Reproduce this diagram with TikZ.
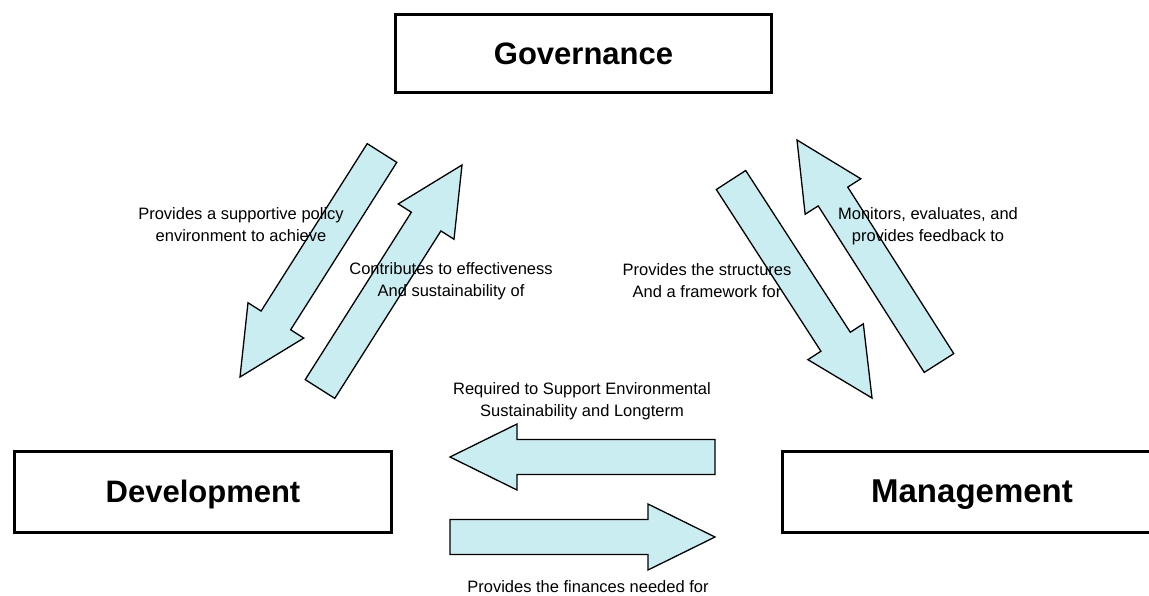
\documentclass[tikz,border=0pt]{standalone}
\usepackage{fontspec}
\setmainfont{Liberation Sans}
\usetikzlibrary{calc}
\definecolor{arrowcyan}{RGB}{202,237,242}
\newcommand{\blockarrow}[2]{%
  \coordinate (hb) at ($(#2)!67pt!(#1)$);
  \draw[blockarrow] ($(#1)!17.5pt!90:(#2)$) -- ($(hb)!17.5pt!90:(#2)$)
    -- ($(hb)!33pt!90:(#2)$) -- (#2) -- ($(hb)!33pt!-90:(#2)$)
    -- ($(hb)!17.5pt!-90:(#2)$) -- ($(#1)!17.5pt!-90:(#2)$) -- cycle;}
\begin{document}
\begin{tikzpicture}[x=1pt, y=-1pt,
  box/.style={draw, line width=3pt, minimum height=81pt, inner sep=0pt,
    font=\bfseries\fontsize{31}{31}\selectfont, text height=22pt, text depth=0pt},
  lbl/.style={align=center, font=\fontsize{16.5}{22}\selectfont},
  blockarrow/.style={draw=black, line width=1.3pt, fill=arrowcyan, line join=miter}]
\useasboundingbox (0,0) rectangle (1149,596);
\clip (0,0) rectangle (1149,596);
\node[box, minimum width=376pt, minimum height=78pt] (gov) at (583.5,53.5) {Governance};
\node[box, minimum width=377pt] (dev) at (203,491.5) {Development};
\node[box, minimum width=379pt, font=\bfseries\fontsize{33}{33}\selectfont] (mgmt) at (972,491.5) {Management};
\coordinate (gd-tail) at (382,153); \coordinate (gd-tip) at (240,377);
\coordinate (dg-tail) at (320,389); \coordinate (dg-tip) at (462,165);
\coordinate (gm-tail) at (731,180); \coordinate (gm-tip) at (872,398);
\coordinate (mg-tail) at (939,363); \coordinate (mg-tip) at (797,140);
\coordinate (md-tail) at (715,457); \coordinate (md-tip) at (450,457);
\coordinate (dm-tail) at (450,537); \coordinate (dm-tip) at (715,537);
\blockarrow{gd-tail}{gd-tip}
\blockarrow{dg-tail}{dg-tip}
\blockarrow{gm-tail}{gm-tip}
\blockarrow{mg-tail}{mg-tip}
\blockarrow{md-tail}{md-tip}
\blockarrow{dm-tail}{dm-tip}
\node[lbl] (policy) at (241,225) {Provides a supportive policy\\environment to achieve};
\node[lbl] (contrib) at (451,281) {Contributes to effectiveness\\And sustainability of};
\node[lbl] (struct) at (707,281) {Provides the structures\\And a framework for};
\node[lbl] (monitor) at (928,226) {Monitors, evaluates, and\\provides feedback to};
\node[lbl] (required) at (582,401) {Required to Support Environmental\\Sustainability and Longterm};
\node[lbl] (finance) at (588,587) {Provides the finances needed for};
\end{tikzpicture}
\end{document}
